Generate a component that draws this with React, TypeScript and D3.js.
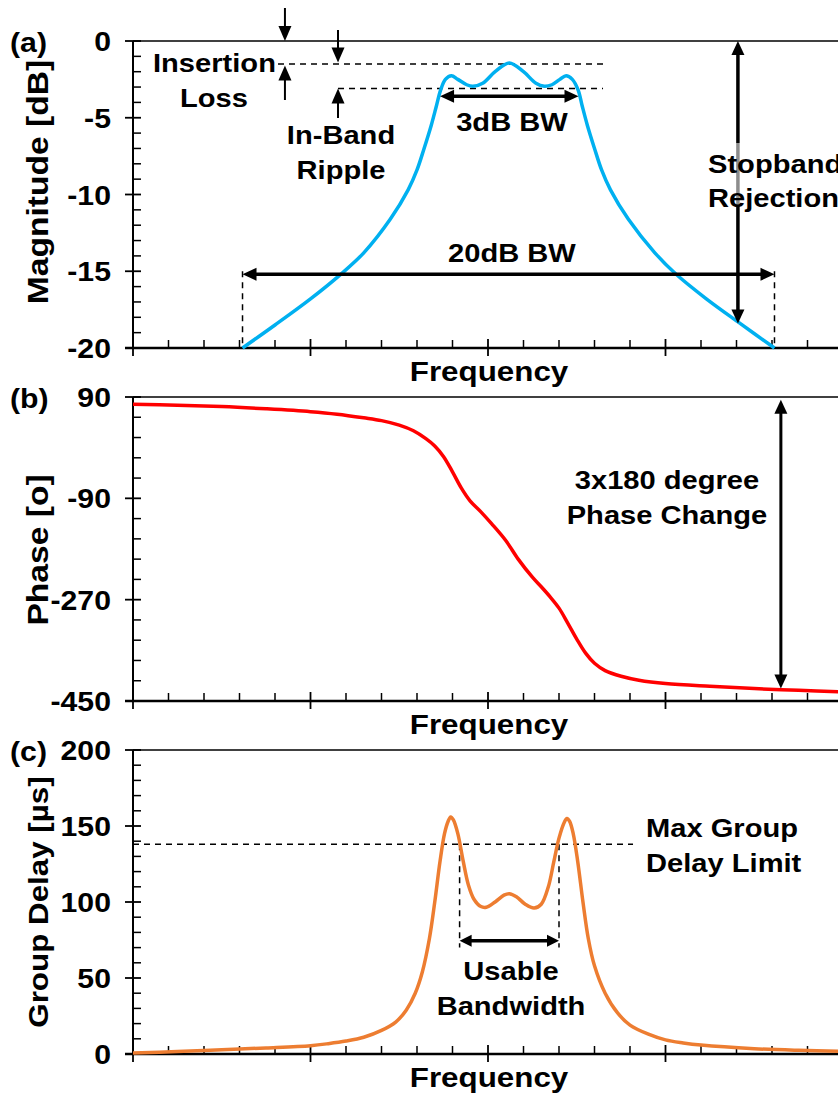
import React from "react";
import * as d3 from "d3";

// x axis is an arbitrary frequency scale, 4 major divisions
const freqTicks = [0, 1, 2, 3, 4];
const magTicks = [0, -5, -10, -15, -20];
const phaseTicks = [90, -90, -270, -450];
const delayTicks = [0, 50, 100, 150, 200];

// (a) magnitude response
const magFreq = [0.617, 0.8, 1.0, 1.17, 1.3, 1.45, 1.55, 1.6, 1.64, 1.68, 1.71, 1.733, 1.76, 1.794, 1.83, 1.88, 1.915, 1.97, 2.04, 2.12, 2.2, 2.27, 2.317, 2.36, 2.405, 2.44, 2.475, 2.508, 2.53, 2.56, 2.6, 2.64, 2.69, 2.79, 2.94, 3.06, 3.23, 3.42, 3.614];
const magDb = [-20, -18.5, -16.8, -15.2, -13.8, -11.6, -9.7, -8.4, -7.0, -5.5, -4.2, -3.2, -2.5, -2.26, -2.5, -2.85, -2.95, -2.75, -2.0, -1.43, -2.0, -2.75, -2.95, -2.85, -2.5, -2.26, -2.5, -3.2, -4.2, -5.5, -7.0, -8.4, -9.7, -11.6, -13.8, -15.2, -16.8, -18.4, -20];

// (b) phase
const phaseFreq = [0, 0.25, 0.5, 0.75, 1.0, 1.15, 1.3, 1.4, 1.5, 1.58, 1.65, 1.7, 1.75, 1.8, 1.85, 1.9, 1.96, 2.02, 2.1, 2.17, 2.25, 2.3, 2.35, 2.4, 2.45, 2.5, 2.55, 2.6, 2.66, 2.75, 2.85, 3.0, 3.25, 3.5, 3.75, 4.0];
const phaseDeg = [77, 75.5, 73, 69, 64, 59.5, 53, 48, 40, 30, 16, 3, -16, -43, -72, -95, -114, -135, -165, -198, -230, -247, -265, -285, -312, -340, -365, -383, -396, -406, -413, -419, -424, -428, -431, -434];

// (c) group delay
const delayFreq = [0, 0.25, 0.5, 0.75, 1.0, 1.1, 1.2, 1.3, 1.4, 1.48, 1.54, 1.59, 1.63, 1.67, 1.7, 1.73, 1.755, 1.775, 1.79, 1.805, 1.83, 1.86, 1.89, 1.92, 1.96, 1.99, 2.04, 2.09, 2.12, 2.16, 2.21, 2.26, 2.3, 2.34, 2.37, 2.4, 2.43, 2.445, 2.46, 2.48, 2.505, 2.535, 2.565, 2.6, 2.66, 2.73, 2.8, 2.9, 3.0, 3.1, 3.2, 3.5, 3.75, 4.0];
const delayUs = [0.7, 1.6, 2.8, 4, 5.5, 6.8, 8.5, 11, 15.5, 21, 29, 40, 54, 76, 100, 127, 145, 153, 156, 154, 145, 127, 111, 102, 97, 96.5, 100, 104.5, 105.5, 103.5, 98.5, 96, 98.5, 110, 126, 142, 152.5, 155, 153, 145, 127, 100, 76, 58, 40, 27, 19, 13.2, 9.3, 7.3, 5.9, 3.5, 2.4, 1.7];

const FONT = "'Liberation Sans', Arial, sans-serif";
const STRETCH = 1.12;

const x = d3.scaleLinear().domain([0, 4]).range([133, 843]);
const yMag = d3.scaleLinear().domain([-20, 0]).range([348, 41]);
const yPh = d3.scaleLinear().domain([-450, 90]).range([701, 397]);
const yGd = d3.scaleLinear().domain([0, 200]).range([1054, 750]);

function Txt({ x, y, size = 26, anchor = "start", rotate = 0, children }: any) {
  return (
    <text
      transform={`translate(${x},${y}) rotate(${rotate}) scale(${STRETCH},1)`}
      fontFamily={FONT}
      fontWeight="bold"
      fontSize={size}
      textAnchor={anchor}
      fill="#000"
    >
      {children}
    </text>
  );
}

function Arrow({ x1, y1, x2, y2, both = false, w = 3.5, len = 14, half = 6.5 }: any) {
  const a = Math.atan2(y2 - y1, x2 - x1);
  const head = (tx: number, ty: number, ang: number) => {
    const bx = tx - len * Math.cos(ang), by = ty - len * Math.sin(ang);
    const px = -Math.sin(ang) * half, py = Math.cos(ang) * half;
    return `M${tx},${ty}L${bx + px},${by + py}L${bx - px},${by - py}Z`;
  };
  const cut = len - 3;
  const sx = both ? x1 + cut * Math.cos(a) : x1;
  const sy = both ? y1 + cut * Math.sin(a) : y1;
  const ex = x2 - cut * Math.cos(a), ey = y2 - cut * Math.sin(a);
  return (
    <g>
      <line x1={sx} y1={sy} x2={ex} y2={ey} stroke="#000" strokeWidth={w} />
      <path d={head(x2, y2, a)} fill="#000" />
      {both && <path d={head(x1, y1, a + Math.PI)} fill="#000" />}
    </g>
  );
}

function Panel({ y, ticks, minorStep, label, title, titleY, titleSize = 30 }: any) {
  const [lo, hi] = y.domain();
  const top = y(hi), bottom = y(lo);
  const yMinor = d3.range(lo, hi + 1e-6, minorStep).filter((v: number) => !ticks.includes(v));
  const xMinor = d3.range(0, 4.001, 0.2).filter((v: number) => Math.abs(v - Math.round(v)) > 1e-6);
  return (
    <g>
      <line x1={x(0)} x2={850} y1={top} y2={top} stroke="#000" strokeWidth={1.5} />
      {yMinor.map((v: number) => (
        <line key={"ym" + v} x1={x(0)} x2={x(0) + 8} y1={y(v)} y2={y(v)} stroke="#000" strokeWidth={1.5} />
      ))}
      {ticks.map((v: number) => (
        <g key={"yt" + v}>
          <line x1={x(0) - 8} x2={x(0) + 8} y1={y(v)} y2={y(v)} stroke="#000" strokeWidth={1.8} />
          <Txt x={111} y={y(v) + 10} size={27} anchor="end">{v}</Txt>
        </g>
      ))}
      {xMinor.map((v: number) => (
        <line key={"xm" + v} x1={x(v)} x2={x(v)} y1={bottom - 8} y2={bottom} stroke="#000" strokeWidth={1.5} />
      ))}
      {freqTicks.map((v) => (
        <line key={"xt" + v} x1={x(v)} x2={x(v)} y1={bottom - 9} y2={bottom + 8} stroke="#000" strokeWidth={1.8} />
      ))}
      <line x1={x(0)} x2={x(0)} y1={top} y2={bottom} stroke="#000" strokeWidth={2} />
      <line x1={x(0) - 8} x2={850} y1={bottom} y2={bottom} stroke="#000" strokeWidth={2.5} />
      <Txt x={489} y={bottom + 33} size={28} anchor="middle">Frequency</Txt>
      <Txt x={10} y={top + 11} size={27}>{label}</Txt>
      <Txt x={48} y={titleY} size={titleSize} anchor="middle" rotate={-90}>{title}</Txt>
    </g>
  );
}

export default function App() {
  const smooth = d3.curveCatmullRom.alpha(0.5);
  const magLine = d3.line<number>().x((d, i) => x(magFreq[i])).y((d) => yMag(d)).curve(smooth);
  const phLine = d3.line<number>().x((d, i) => x(phaseFreq[i])).y((d) => yPh(d)).curve(smooth);
  const gdLine = d3.line<number>().x((d, i) => x(delayFreq[i])).y((d) => yGd(d)).curve(smooth);
  const dash = { stroke: "#000", strokeWidth: 1.5, strokeDasharray: "6,5", fill: "none" };

  return (
    <svg width={838} height={1100} style={{ position: "absolute", left: 0, top: 0, background: "#fff" }}>
      {/* (a) magnitude */}
      <Panel y={yMag} ticks={magTicks} minorStep={1} label="(a)" title="Magnitude [dB]" titleY={182} />
      <line x1={x(0.817)} x2={x(2.648)} y1={yMag(-1.5)} y2={yMag(-1.5)} {...dash} />
      <line x1={x(1.155)} x2={x(2.648)} y1={yMag(-3.1)} y2={yMag(-3.1)} {...dash} />
      <line x1={x(0.617)} x2={x(0.617)} y1={yMag(-15)} y2={yMag(-20)} {...dash} />
      <line x1={x(3.614)} x2={x(3.614)} y1={yMag(-15)} y2={yMag(-20)} {...dash} />
      <path d={magLine(magDb) || ""} fill="none" stroke="#00B0F0" strokeWidth={3.5} />
      <Arrow x1={x(0.856)} y1={8} x2={x(0.856)} y2={yMag(0)} w={2} len={15} half={6.5} />
      <Arrow x1={x(0.856)} y1={100} x2={x(0.856)} y2={yMag(-1.6)} w={2} len={15} half={6.5} />
      <Arrow x1={x(1.155)} y1={30} x2={x(1.155)} y2={yMag(-1.4)} w={2} len={15} half={6.5} />
      <Arrow x1={x(1.155)} y1={118} x2={x(1.155)} y2={yMag(-3.1)} w={2} len={15} half={6.5} />
      <Arrow x1={x(1.73)} y1={yMag(-3.6)} x2={x(2.51)} y2={yMag(-3.6)} both />
      <Arrow x1={x(0.617)} y1={yMag(-15.2)} x2={x(3.614)} y2={yMag(-15.2)} both />
      <Arrow x1={x(3.408)} y1={yMag(0)} x2={x(3.408)} y2={yMag(-18.4)} both />
      <rect x={704} y={143} width={140} height={63} fill="#fff" fillOpacity={0.55} />
      <Txt x={153} y={72}>Insertion</Txt>
      <Txt x={214} y={107} anchor="middle">Loss</Txt>
      <Txt x={341} y={144} anchor="middle">In-Band</Txt>
      <Txt x={341} y={179} anchor="middle">Ripple</Txt>
      <Txt x={x(2.135)} y={131} anchor="middle">3dB BW</Txt>
      <Txt x={x(2.135)} y={262} anchor="middle">20dB BW</Txt>
      <Txt x={708} y={173}>Stopband</Txt>
      <Txt x={708} y={207}>Rejection</Txt>

      {/* (b) phase */}
      <Panel y={yPh} ticks={phaseTicks} minorStep={36} label="(b)" title="Phase [o]" titleY={550} />
      <path d={phLine(phaseDeg) || ""} fill="none" stroke="#FF0000" strokeWidth={3.5} />
      <Arrow x1={x(3.65)} y1={yPh(85)} x2={x(3.65)} y2={yPh(-428)} both w={3} />
      <Txt x={667} y={489} anchor="middle">3x180 degree</Txt>
      <Txt x={667} y={524} anchor="middle">Phase Change</Txt>

      {/* (c) group delay */}
      <Panel y={yGd} ticks={delayTicks} minorStep={10} label="(c)" title="Group Delay [µs]" titleY={902} titleSize={28} />
      <line x1={x(0)} x2={x(2.817)} y1={yGd(138)} y2={yGd(138)} {...dash} />
      <line x1={x(1.84)} x2={x(1.84)} y1={yGd(138)} y2={yGd(70)} {...dash} />
      <line x1={x(2.4)} x2={x(2.4)} y1={yGd(138)} y2={yGd(70)} {...dash} />
      <path d={gdLine(delayUs) || ""} fill="none" stroke="#ED7D31" strokeWidth={3.5} />
      <Arrow x1={x(1.84)} y1={yGd(74.5)} x2={x(2.4)} y2={yGd(74.5)} both len={12} half={6} />
      <Txt x={511} y={980} anchor="middle">Usable</Txt>
      <Txt x={511} y={1015} anchor="middle">Bandwidth</Txt>
      <Txt x={646} y={837}>Max Group</Txt>
      <Txt x={646} y={872}>Delay Limit</Txt>
    </svg>
  );
}
